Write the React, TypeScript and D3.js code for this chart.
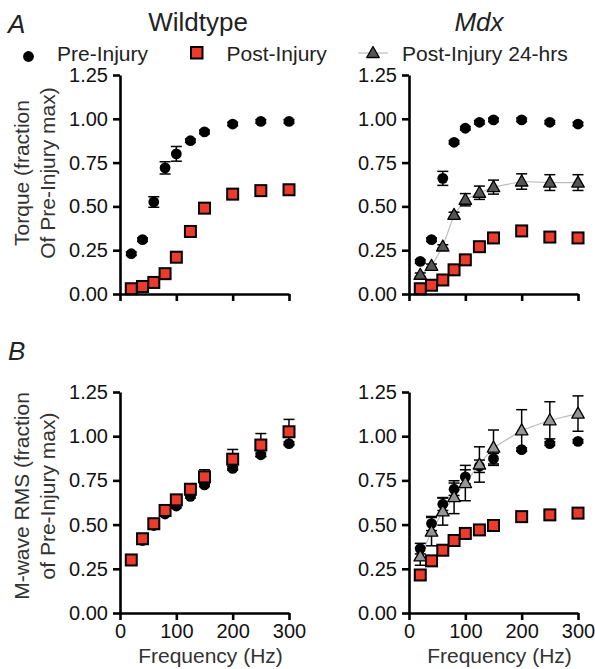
import React, { useRef, useEffect } from "react";
import * as d3 from "d3";

// stimulation frequencies (Hz)
const freq = [20, 40, 60, 80, 100, 125, 150, 200, 250, 300];
const yTicks = [0, 0.25, 0.5, 0.75, 1.0, 1.25];
const xTicks = [0, 100, 200, 300];

// A - torque, wildtype
const wtTorquePre = [0.23, 0.31, 0.525, 0.72, 0.8, 0.875, 0.925, 0.97, 0.985, 0.985];
const wtTorquePreErr = [0.01, 0.01, 0.03, 0.035, 0.042, 0.01, 0.01, 0.01, 0.01, 0.01];
const wtTorquePost = [0.03, 0.043, 0.066, 0.116, 0.21, 0.357, 0.49, 0.57, 0.59, 0.595];
const wtTorquePostErr = [0.01, 0.01, 0.01, 0.01, 0.01, 0.01, 0.01, 0.01, 0.01, 0.01];

// A - torque, mdx
const mdxTorquePre = [0.186, 0.31, 0.66, 0.866, 0.946, 0.98, 0.994, 0.994, 0.98, 0.97];
const mdxTorquePreErr = [0.01, 0.01, 0.04, 0.01, 0.01, 0.01, 0.01, 0.01, 0.01, 0.01];
const mdxTorquePost = [0.03, 0.05, 0.08, 0.138, 0.195, 0.27, 0.32, 0.36, 0.325, 0.32];
const mdxTorquePostErr = [0.01, 0.01, 0.01, 0.01, 0.01, 0.01, 0.01, 0.01, 0.01, 0.01];
const mdxTorque24 = [0.11, 0.161, 0.271, 0.452, 0.538, 0.578, 0.61, 0.642, 0.636, 0.636];
const mdxTorque24Err = [0.01, 0.01, 0.01, 0.015, 0.035, 0.038, 0.04, 0.044, 0.045, 0.045];

// B - M-wave RMS, wildtype
const wtMwavePre = [0.295, 0.41, 0.495, 0.56, 0.605, 0.66, 0.725, 0.818, 0.895, 0.958];
const wtMwavePreErr = [0.01, 0.01, 0.01, 0.01, 0.01, 0.01, 0.01, 0.01, 0.01, 0.01];
const wtMwavePost = [0.3, 0.42, 0.505, 0.58, 0.64, 0.7, 0.77, 0.87, 0.95, 1.025];
const wtMwavePostErr = [0.01, 0.01, 0.01, 0.01, 0.015, 0.03, 0.04, 0.055, 0.065, 0.07];

// B - M-wave RMS, mdx
const mdxMwavePre = [0.364, 0.506, 0.615, 0.7, 0.77, 0.83, 0.873, 0.924, 0.958, 0.971];
const mdxMwavePreErr = [0.03, 0.04, 0.035, 0.035, 0.04, 0.035, 0.03, 0.01, 0.01, 0.01];
const mdxMwavePost = [0.215, 0.295, 0.355, 0.41, 0.45, 0.47, 0.495, 0.545, 0.555, 0.565];
const mdxMwavePostErr = [0.01, 0.01, 0.01, 0.01, 0.01, 0.01, 0.01, 0.01, 0.01, 0.01];
const mdxMwave24 = [0.32, 0.46, 0.575, 0.655, 0.735, 0.84, 0.935, 1.033, 1.09, 1.128];
const mdxMwave24Err = [0.05, 0.08, 0.078, 0.093, 0.1, 0.1, 0.1, 0.117, 0.105, 0.1];

const FONT = "'Liberation Sans', Arial, Helvetica, sans-serif";
const RED = "#ec3a2b";

const App = () => {
  const svgRef = useRef(null);

  useEffect(() => {
    const svg = d3.select(svgRef.current);
    svg.selectAll("*").remove();
    svg.attr("width", 595).attr("height", 669);

    const drawSymbol = (g, shape, cx, cy, fill) => {
      if (shape === "circle") {
        g.append("circle").attr("cx", cx).attr("cy", cy).attr("r", 5.4).attr("fill", "#000");
      } else if (shape === "square") {
        g.append("rect")
          .attr("x", cx - 5.5)
          .attr("y", cy - 5.5)
          .attr("width", 11)
          .attr("height", 11)
          .attr("fill", RED)
          .attr("stroke", "#000")
          .attr("stroke-width", 2);
      } else {
        const h = 11;
        const w = 12.5;
        g.append("path")
          .attr("d", `M${cx},${cy - h / 2 - 1}L${cx + w / 2},${cy + h / 2 - 1}L${cx - w / 2},${cy + h / 2 - 1}Z`)
          .attr("fill", fill)
          .attr("stroke", "#000")
          .attr("stroke-width", 1.3)
          .attr("stroke-linejoin", "round");
      }
    };

    const drawPanel = (xr, yr, series, showXLabels) => {
      const x = d3.scaleLinear().domain([0, 300]).range(xr);
      const y = d3.scaleLinear().domain([0, 1.25]).range(yr);
      const g = svg.append("g");

      // connecting line for the 24-hrs series
      series
        .filter((s) => s.line)
        .forEach((s) => {
          const line = d3
            .line()
            .x((d, i) => x(freq[i]))
            .y((d) => y(d));
          g.append("path")
            .attr("d", line(s.values))
            .attr("fill", "none")
            .attr("stroke", "#bdbdbd")
            .attr("stroke-width", 1.2);
        });

      // error bars
      series.forEach((s) => {
        s.values.forEach((v, i) => {
          const cx = x(freq[i]);
          const e = s.errs[i];
          const eb = g.append("g").attr("stroke", "#000").attr("stroke-width", 1.5);
          eb.append("line").attr("x1", cx).attr("x2", cx).attr("y1", y(v - e)).attr("y2", y(v + e));
          [v - e, v + e].forEach((t) => {
            eb.append("line")
              .attr("x1", cx - 5.5)
              .attr("x2", cx + 5.5)
              .attr("y1", y(t))
              .attr("y2", y(t));
          });
        });
      });

      // symbols
      series.forEach((s) => {
        s.values.forEach((v, i) => {
          drawSymbol(g, s.shape, x(freq[i]), y(v), s.fill);
        });
      });

      // axes
      const yAxis = d3
        .axisLeft(y)
        .tickValues(yTicks)
        .tickFormat(d3.format(".2f"))
        .tickSize(7)
        .tickSizeOuter(0)
        .tickPadding(5);
      const yg = g.append("g").attr("transform", `translate(${xr[0]},0)`).call(yAxis);

      const xAxis = d3
        .axisBottom(x)
        .tickValues(xTicks)
        .tickFormat(showXLabels ? d3.format("d") : () => "")
        .tickSize(7)
        .tickSizeOuter(0)
        .tickPadding(4);
      const xg = g.append("g").attr("transform", `translate(0,${yr[0]})`).call(xAxis);

      [yg, xg].forEach((ax) => {
        ax.select(".domain").attr("stroke-width", 2.6);
        ax.selectAll(".tick line").attr("stroke-width", 2.6);
        ax.selectAll("text").attr("font-size", 20).attr("font-family", FONT).attr("fill", "#111");
      });

      if (showXLabels) {
        g.append("text")
          .attr("x", (xr[0] + xr[1]) / 2 + 6)
          .attr("y", 663)
          .attr("text-anchor", "middle")
          .attr("font-size", 21)
          .attr("font-family", FONT)
          .attr("fill", "#333")
          .text("Frequency (Hz)");
      }
    };

    const left = [120, 289];
    const right = [409, 578];
    const top = [294, 75];
    const bottom = [613, 392];

    drawPanel(left, top, [
      { values: wtTorquePre, errs: wtTorquePreErr, shape: "circle" },
      { values: wtTorquePost, errs: wtTorquePostErr, shape: "square" },
    ], false);

    drawPanel(right, top, [
      { values: mdxTorquePre, errs: mdxTorquePreErr, shape: "circle" },
      { values: mdxTorquePost, errs: mdxTorquePostErr, shape: "square" },
      { values: mdxTorque24, errs: mdxTorque24Err, shape: "triangle", fill: "#555555", line: true },
    ], false);

    drawPanel(left, bottom, [
      { values: wtMwavePre, errs: wtMwavePreErr, shape: "circle" },
      { values: wtMwavePost, errs: wtMwavePostErr, shape: "square" },
    ], true);

    drawPanel(right, bottom, [
      { values: mdxMwavePre, errs: mdxMwavePreErr, shape: "circle" },
      { values: mdxMwavePost, errs: mdxMwavePostErr, shape: "square" },
      { values: mdxMwave24, errs: mdxMwave24Err, shape: "triangle", fill: "#959595", line: true },
    ], true);

    // titles and panel letters
    const txt = (xp, yp, s, size, opts = {}) =>
      svg
        .append("text")
        .attr("x", xp)
        .attr("y", yp)
        .attr("font-size", size)
        .attr("font-family", FONT)
        .attr("fill", opts.fill || "#222")
        .attr("font-style", opts.italic ? "italic" : "normal")
        .attr("text-anchor", opts.anchor || "start")
        .text(s);

    txt(8, 33, "A", 26, { italic: true });
    txt(8, 360, "B", 26, { italic: true });
    txt(198, 31, "Wildtype", 26, { anchor: "middle" });
    txt(479, 31, "Mdx", 26, { anchor: "middle", italic: true });

    // legend
    const lg = svg.append("g");
    lg.append("circle").attr("cx", 28.5).attr("cy", 56.5).attr("r", 5.4).attr("fill", "#000");
    txt(57, 61, "Pre-Injury", 21);
    lg.append("rect")
      .attr("x", 191)
      .attr("y", 47)
      .attr("width", 11.5)
      .attr("height", 11.5)
      .attr("fill", RED)
      .attr("stroke", "#000")
      .attr("stroke-width", 2);
    txt(226.5, 61, "Post-Injury", 21);
    lg.append("line")
      .attr("x1", 358)
      .attr("x2", 388)
      .attr("y1", 53)
      .attr("y2", 53)
      .attr("stroke", "#bdbdbd")
      .attr("stroke-width", 1.2);
    drawSymbol(lg, "triangle", 373, 53, "#555555");
    txt(402, 61, "Post-Injury 24-hrs", 21);

    // y-axis titles
    const ylab = (cy, lines) => {
      lines.forEach((s, i) => {
        svg
          .append("text")
          .attr("transform", `translate(${29 + i * 26},${cy}) rotate(-90)`)
          .attr("text-anchor", "middle")
          .attr("font-size", 21)
          .attr("font-family", FONT)
          .attr("fill", "#333")
          .text(s);
      });
    };
    ylab(173, ["Torque (fraction", "Of Pre-Injury max)"]);
    ylab(496, ["M-wave RMS (fraction", "of Pre-Injury max)"]);
  }, []);

  return <svg ref={svgRef} style={{ position: "absolute", left: 0, top: 0 }} />;
};

export default App;
